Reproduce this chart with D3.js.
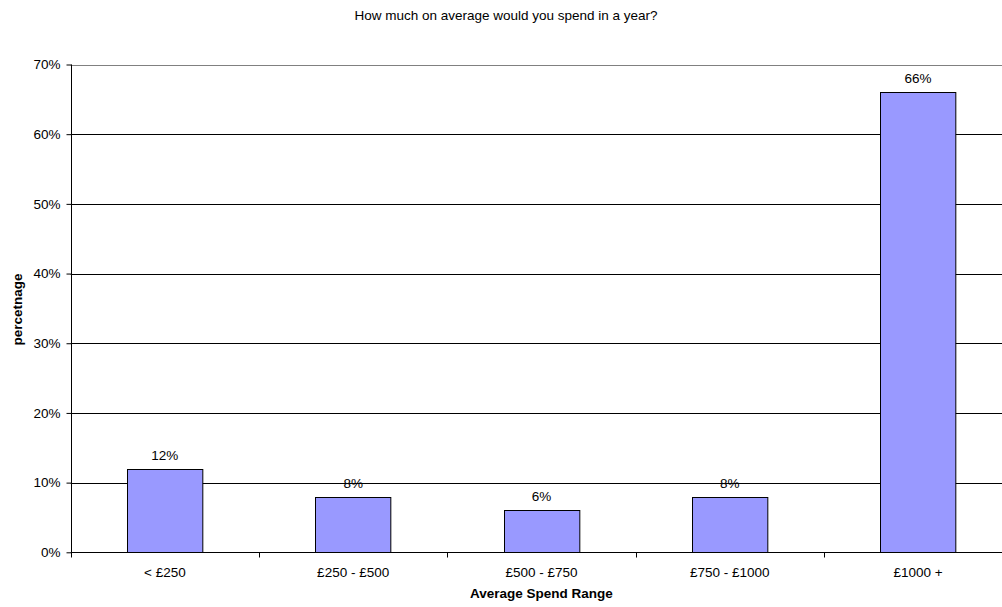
<!DOCTYPE html>
<html><head><meta charset="utf-8">
<script src="https://cdn.jsdelivr.net/npm/d3@7"></script>
<style>body{margin:0;background:#fff;} svg{display:block;font-family:"Liberation Sans",Arial,sans-serif;}</style>
</head><body>
<svg id="c" width="1002" height="607"></svg>
<script>
const categories = ["< £250", "£250 - £500", "£500 - £750", "£750 - £1000", "£1000 +"];
const values = [12, 8, 6, 8, 66];
const yTicks = [0, 10, 20, 30, 40, 50, 60, 70];
const titleText = "How much on average would you spend in a year?";
const xTitle = "Average Spend Range";
const yTitle = "percetnage";

const FS = 13.5;
const svg = d3.select("#c");
const pLeft = 70.7, pTop = 64.5, pBottom = 552.3, band = 188.3;
const pRight = pLeft + band * categories.length;

const x = d3.scaleBand().domain(categories).range([pLeft, pRight]).paddingInner(0.6).paddingOuter(0.3);
const xb = d3.scaleBand().domain(categories).range([pLeft, pRight]);
const y = d3.scaleLinear().domain([0, 70]).range([pBottom, pTop]);

// gridlines
svg.append("g").selectAll("line").data(yTicks.filter(t => t > 0)).join("line")
  .attr("x1", pLeft).attr("x2", pRight)
  .attr("y1", d => Math.round(y(d)) + 0.5).attr("y2", d => Math.round(y(d)) + 0.5)
  .attr("stroke", d => d === 70 ? "#808080" : "#000").attr("stroke-width", 1);

// bars
svg.append("g").selectAll("rect").data(values).join("rect")
  .attr("x", (d, i) => Math.round(x(categories[i])) + 0.5)
  .attr("y", d => Math.round(y(d)) + 0.5)
  .attr("width", x.bandwidth())
  .attr("height", d => Math.round(y(0)) - Math.round(y(d)))
  .attr("fill", "#9999ff").attr("stroke", "#000").attr("stroke-width", 1);

// labels
svg.append("g").selectAll("text").data(values).join("text")
  .attr("x", (d, i) => x(categories[i]) + x.bandwidth() / 2)
  .attr("y", d => y(d) - 9)
  .attr("text-anchor", "middle").attr("font-size", FS).attr("fill", "#000")
  .text(d => d + "%");

// y axis
const yAxis = d3.axisLeft(y).tickValues(yTicks).tickFormat(d => d + "%").tickSize(5).tickPadding(6);
const gy = svg.append("g").attr("transform", `translate(${Math.round(pLeft) + 0.5},0)`).call(yAxis);
gy.select(".domain").attr("d", `M0,${pTop}V${Math.round(pBottom)+0.5}`).attr("stroke", "#000");
gy.selectAll(".tick line").attr("stroke", "#000");
gy.selectAll(".tick text").attr("font-size", FS).attr("fill", "#000").attr("font-family", "Liberation Sans, Arial, sans-serif");

// x axis
const xAxis = d3.axisBottom(xb).tickSize(0).tickPadding(15);
const gx = svg.append("g").attr("transform", `translate(0,${Math.round(pBottom) + 0.5})`).call(xAxis);
gx.select(".domain").attr("d", `M${pLeft},0H${pRight}`).attr("stroke", "#000");
gx.selectAll(".tick text").attr("font-size", FS).attr("fill", "#000").attr("font-family", "Liberation Sans, Arial, sans-serif");
// category separator ticks
svg.append("g").selectAll("line").data(d3.range(categories.length + 1)).join("line")
  .attr("x1", i => Math.round(pLeft + i * band) + 0.5).attr("x2", i => Math.round(pLeft + i * band) + 0.5)
  .attr("y1", Math.round(pBottom) + 0.5).attr("y2", Math.round(pBottom) + 5.5)
  .attr("stroke", "#000");

// titles
svg.append("text").attr("x", 506).attr("y", 20).attr("text-anchor", "middle")
  .attr("font-size", FS).text(titleText);
svg.append("text").attr("x", (pLeft + pRight) / 2).attr("y", 598).attr("text-anchor", "middle")
  .attr("font-size", FS).attr("font-weight", "bold").text(xTitle);
svg.append("text").attr("transform", `translate(22,${(pTop + pBottom) / 2 + 1}) rotate(-90)`)
  .attr("text-anchor", "middle").attr("font-size", FS).attr("font-weight", "bold").text(yTitle);
</script>
</body></html>
